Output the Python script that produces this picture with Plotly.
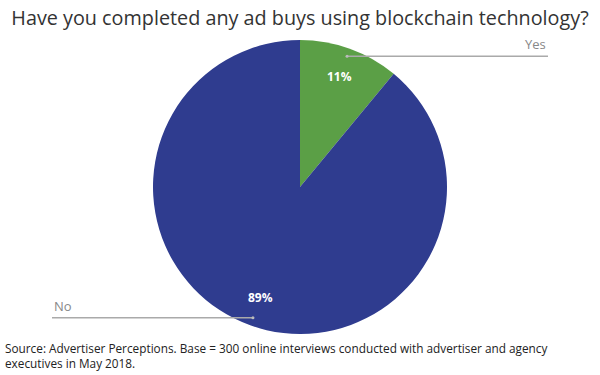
import math
import plotly.graph_objects as go

labels = ["Yes", "No"]
values = [11, 89]
colors = ["#5b9f46", "#2f3c8f"]
title = "Have you completed any ad buys using blockchain technology?"
source = "Source: Advertiser Perceptions. Base = 300 online interviews conducted with advertiser and agency<br>executives in May 2018."

W, H = 600, 375
cx, cy, R = 300, 187, 147  # pixel layout of the pie

fig = go.Figure(go.Pie(
    labels=labels, values=values, sort=False, direction="clockwise", rotation=0,
    marker=dict(colors=colors, line=dict(width=0)),
    textinfo="none", hoverinfo="label+percent", showlegend=False,
    domain=dict(x=[(cx - R) / W, (cx + R) / W], y=[1 - (cy + R) / H, 1 - (cy - R) / H]),
))

def px2paper(x, y):
    return x / W, 1 - y / H

total = sum(values)
start = 0.0
shapes, annotations = [], []
for lab, v in zip(labels, values):
    mid = (start + v / 2) / total * 2 * math.pi
    start += v
    sx, sy = math.sin(mid), -math.cos(mid)
    tx, ty = px2paper(cx + sx * R * 0.8, cy + sy * R * 0.8)
    annotations.append(dict(x=tx, y=ty, xref="paper", yref="paper", showarrow=False,
                            xanchor="center", yanchor="middle",
                            text="<b>%d%%</b>" % round(v / total * 100),
                            font=dict(family="Open Sans", size=12, color="white")))
    px, py = cx + sx * R * 0.945, cy + sy * R * 0.945
    if sx >= 0:
        ex = 548
        anchor = "right"
    else:
        ex = 52
        anchor = "left"
    p0 = px2paper(px, py)
    p1 = px2paper(ex, py)
    shapes.append(dict(type="line", xref="paper", yref="paper", x0=p0[0], y0=p0[1],
                       x1=p1[0], y1=p1[1], line=dict(color="#aaaaaa", width=1.5)))
    shapes.append(dict(type="circle", xref="paper", yref="paper",
                       x0=(px - 1.5) / W, x1=(px + 1.5) / W,
                       y0=1 - (py + 1.5) / H, y1=1 - (py - 1.5) / H,
                       fillcolor="#bbbbbb", line=dict(width=0)))
    lx, ly = px2paper(ex, py - 1)
    annotations.append(dict(x=lx, y=ly, xref="paper", yref="paper", showarrow=False,
                            text=lab, xanchor=anchor, yanchor="bottom",
                            font=dict(family="Open Sans", size=13, color="#888888")))

annotations.append(dict(x=3 / W, y=1 - 338 / H, xref="paper", yref="paper", showarrow=False,
                        text=source, xanchor="left", yanchor="top", align="left",
                        font=dict(family="Open Sans", size=11.8, color="#222222")))

fig.update_layout(
    width=W, height=H, margin=dict(l=0, r=0, t=0, b=0),
    paper_bgcolor="white", plot_bgcolor="white",
    title=dict(text=title, x=0.5, xanchor="center", y=1 - 18 / H, yanchor="middle",
               font=dict(family="Open Sans", size=19.8, color="#333333")),
    shapes=shapes, annotations=annotations,
)
fig.write_html("out.html", config=dict(displayModeBar=False),
               post_script="document.body.style.margin='0px';document.body.style.overflow='hidden';")
